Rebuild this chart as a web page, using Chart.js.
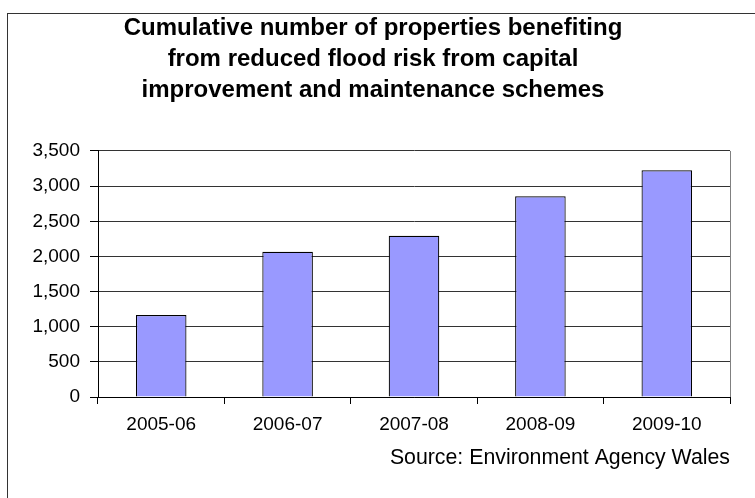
<!DOCTYPE html>
<html><head><meta charset="utf-8">
<script src="https://cdn.jsdelivr.net/npm/chart.js@4.4.0/dist/chart.umd.min.js"></script>
<style>html,body{margin:0;padding:0;background:#fff}#wrap{width:755px;height:498px}</style>
</head><body><div id="wrap"><canvas id="c" width="755" height="498"></canvas></div>
<script>
const categories = ["2005-06", "2006-07", "2007-08", "2008-09", "2009-10"];
const properties = [1165, 2067, 2295, 2855, 3225];
const yTicks = [0, 500, 1000, 1500, 2000, 2500, 3000, 3500];
const titleLines = ["Cumulative number of properties benefiting", "from reduced flood risk from capital", "improvement and maintenance schemes"];
const sourceText = "Source: Environment Agency Wales";

const FONT = '"Liberation Sans", Arial, sans-serif';

const frame = {
  id: 'frame',
  beforeDraw(chart) {
    const ctx = chart.ctx;
    ctx.save();
    ctx.fillStyle = '#fff';
    ctx.fillRect(0, 0, chart.width, chart.height);
    ctx.strokeStyle = '#333';
    ctx.lineWidth = 1;
    ctx.strokeRect(7.5, 13.5, 900, 700);
    ctx.restore();
  },
  afterDatasetsDraw(chart) {
    const a = chart.chartArea, ctx = chart.ctx;
    ctx.save();
    ctx.strokeStyle = '#808080';
    ctx.lineWidth = 1;
    ctx.beginPath();
    ctx.moveTo(Math.round(a.right) + 0.5, a.top);
    ctx.lineTo(Math.round(a.right) + 0.5, a.bottom);
    ctx.stroke();
    ctx.restore();
  }
};

new Chart(document.getElementById('c'), {
  type: 'bar',
  data: {
    labels: categories,
    datasets: [{
      data: properties,
      backgroundColor: '#9999FF',
      borderColor: '#000',
      borderWidth: 1.2,
      barPercentage: 0.4,
      categoryPercentage: 1
    }]
  },
  options: {
    responsive: false,
    animation: false,
    devicePixelRatio: 1,
    layout: { padding: { left: 0, right: 9, top: 0, bottom: 0 } },
    plugins: {
      legend: { display: false },
      tooltip: { enabled: false },
      title: {
        display: true,
        text: titleLines,
        color: '#000',
        font: { family: FONT, size: 24, weight: 'bold', lineHeight: 1.29 },
        padding: { top: 13, bottom: 45.1 }
      }
    },
    scales: {
      x: {
        offset: true,
        grid: { display: true, drawOnChartArea: false, offset: true, tickLength: 7, color: '#000', tickColor: '#000' },
        border: { display: true, color: '#000', width: 1 },
        ticks: { color: '#000', padding: 9, maxRotation: 0, font: { family: FONT, size: 19 } },
        title: {
          display: true,
          text: sourceText,
          align: 'end',
          color: '#000',
          font: { family: FONT, size: 21.3, lineHeight: 1.2 },
          padding: { top: 0, bottom: 27.4 }
        },
        afterFit(s) { s.height = 101; }
      },
      y: {
        min: 0, max: 3500,
        afterBuildTicks(s) { s.ticks = yTicks.map(v => ({ value: v })); },
        grid: { color: '#333', tickLength: 8, tickColor: '#000' },
        border: { display: true, color: '#000', width: 1 },
        ticks: {
          color: '#000', padding: 10,
          font: { family: FONT, size: 19 },
          callback: v => v.toLocaleString('en-US')
        },
        afterFit(s) { s.width = 98; }
      },
      yRight: {
        type: 'linear',
        position: 'right',
        display: true,
        grid: { display: false },
        border: { display: false },
        ticks: { display: false },
        afterFit(s) { s.width = 16; }
      }
    }
  },
  plugins: [frame]
});
</script></body></html>
